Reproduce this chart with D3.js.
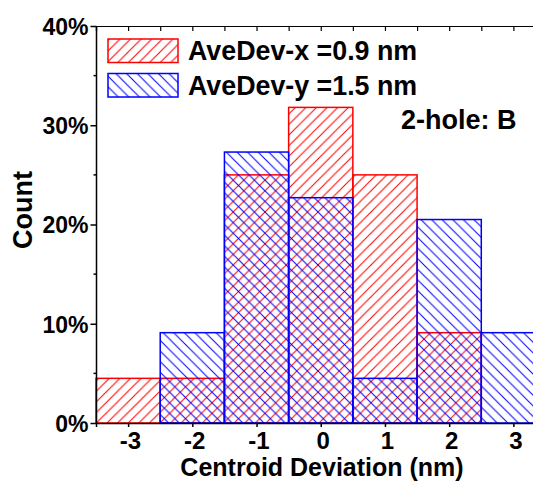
<!DOCTYPE html>
<html>
<head>
<meta charset="utf-8">
<script src="https://cdn.jsdelivr.net/npm/d3@7"></script>
<style>
  body { margin: 0; background: #fff; }
  svg { display: block; font-family: "Liberation Sans", Arial, sans-serif; font-weight: bold; }
</style>
</head>
<body>
<div class="hist"></div>
<script>
// histogram data (percent of count)
var categories = [-3, -2, -1, 0, 1, 2, 3];
var devX = [4.5, 4.5, 25.0, 31.8, 25.0, 9.1, 0];
var devY = [0, 9.1, 27.3, 22.7, 4.5, 20.5, 9.1];
var yTicks = [0, 10, 20, 30, 40];
var yMinor = [5, 15, 25, 35];
var legendLabels = ["AveDev-x =0.9 nm", "AveDev-y =1.5 nm"];
var noteText = "2-hole: B";

var w = 533, h = 481;
var svg = d3.select(".hist").append("svg")
            .attr("width", w)
            .attr("height", h);

var xScale = d3.scaleLinear().domain([-3.5, 3.5]).range([96, 545.5]);
var yScale = d3.scaleLinear().domain([0, 40]).range([423, 26]);

// hatch patterns
var defs = svg.append("defs");
var p = 10.6;
function hatch(id, color, forward) {
    var pat = defs.append("pattern")
        .attr("id", id)
        .attr("patternUnits", "userSpaceOnUse")
        .attr("width", p).attr("height", p);
    var segs = forward
        ? [[0, p, p, 0], [-p / 2, p / 2, p / 2, -p / 2], [p / 2, p * 1.5, p * 1.5, p / 2]]
        : [[0, 0, p, p], [-p / 2, p / 2, p / 2, p * 1.5], [p / 2, -p / 2, p * 1.5, p / 2]];
    segs.forEach(function(s) {
        pat.append("line")
            .attr("x1", s[0]).attr("y1", s[1]).attr("x2", s[2]).attr("y2", s[3])
            .attr("stroke", color).attr("stroke-width", 1);
    });
}
hatch("hatchRed", "#ff0000", true);
hatch("hatchBlue", "#0000ff", false);

var step = xScale(1) - xScale(0);

function drawBars(values, cls, color, pat) {
    var data = categories.map(function(c, i) { return {c: c, v: values[i]}; })
                         .filter(function(d) { return d.v > 0; });
    svg.selectAll("." + cls).data(data).enter()
        .append("rect")
        .attr("class", cls)
        .attr("x", function(d) { return xScale(d.c - 0.5); })
        .attr("y", function(d) { return yScale(d.v); })
        .attr("width", step)
        .attr("height", function(d) { return yScale(0) - yScale(d.v); })
        .attr("fill", "url(#" + pat + ")")
        .attr("stroke", color)
        .attr("stroke-width", 1.5);
}
drawBars(devX, "barX", "#ff0000", "hatchRed");
drawBars(devY, "barY", "#0000ff", "hatchBlue");

// left axis
var yAxis = d3.axisLeft(yScale).tickValues(yTicks).tickSize(6).tickPadding(2)
              .tickFormat(function(d) { return d + "%"; });
var gy = svg.append("g").attr("transform", "translate(96.5,0)").call(yAxis);
gy.selectAll("text").attr("font-size", 23).attr("fill", "#000").attr("font-family", null).attr("dy", "0.36em");
gy.selectAll("line, path").attr("stroke", "#000").attr("stroke-width", 1.5);
gy.select(".domain").attr("d", "M0," + yScale(40) + "V" + yScale(0));
svg.append("g").selectAll("line").data(yMinor).enter().append("line")
    .attr("x1", 93.5).attr("x2", 96.5)
    .attr("y1", function(d) { return yScale(d); }).attr("y2", function(d) { return yScale(d); })
    .attr("stroke", "#000").attr("stroke-width", 1.5);

// bottom axis
var xAxis = d3.axisBottom(xScale).tickValues(categories).tickSize(4).tickPadding(5)
              .tickFormat(function(d) { return String(d); });
var gx = svg.append("g").attr("transform", "translate(0," + yScale(0) + ")").call(xAxis);
gx.selectAll("text").attr("font-size", 24).attr("fill", "#000").attr("font-family", null).attr("dx", "0.08em");
gx.selectAll("line, path").attr("stroke", "#000").attr("stroke-width", 1.5);

// top frame with inward ticks
var topTicks = d3.range(-3.5, 3.51, 0.5);
var xTop = d3.axisBottom(xScale).tickValues(topTicks).tickSize(5).tickFormat("");
var gt = svg.append("g").attr("transform", "translate(0," + yScale(40) + ")").call(xTop);
gt.selectAll("line, path").attr("stroke", "#000").attr("stroke-width", 1.2);

// axis titles
svg.append("text")
    .attr("x", 322).attr("y", 476)
    .attr("text-anchor", "middle")
    .attr("font-size", 25)
    .text("Centroid Deviation (nm)");
svg.append("text")
    .attr("transform", "translate(32,210) rotate(-90)")
    .attr("text-anchor", "middle")
    .attr("font-size", 27)
    .text("Count");

// legend
var leg = svg.append("g");
[["hatchRed", "#ff0000"], ["hatchBlue", "#0000ff"]].forEach(function(s, i) {
    var y0 = 39 + i * 34.5;
    leg.append("rect")
        .attr("x", 108).attr("y", y0).attr("width", 70).attr("height", 23.5)
        .attr("fill", "url(#" + s[0] + ")")
        .attr("stroke", s[1]).attr("stroke-width", 1.5);
    leg.append("text")
        .attr("x", 188).attr("y", y0 + 21)
        .attr("font-size", 26.8)
        .text(legendLabels[i]);
});

svg.append("text")
    .attr("x", 401).attr("y", 129)
    .attr("font-size", 27)
    .text(noteText);
</script>
</body>
</html>
